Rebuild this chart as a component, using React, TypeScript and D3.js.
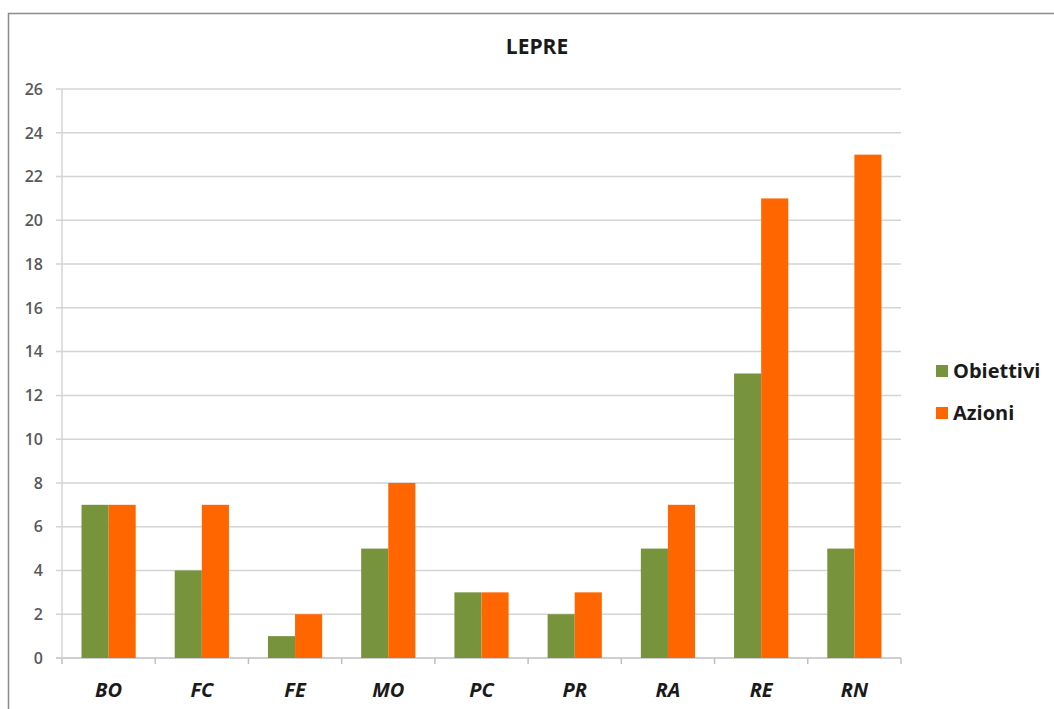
import React from "react";
import * as d3 from "d3";

const categories = ["BO", "FC", "FE", "MO", "PC", "PR", "RA", "RE", "RN"];
const obiettivi = [7, 4, 1, 5, 3, 2, 5, 13, 5];
const azioni = [7, 7, 2, 8, 3, 3, 7, 21, 23];
const seriesNames = ["Obiettivi", "Azioni"];
const colors = ["#77933C", "#FF6600"];
const yTicks = d3.range(0, 27, 2);

export default function App() {
  const W = 1054, H = 709;
  const left = 62, right = 901, top = 89, bottom = 658;
  const x = d3.scaleBand<string>().domain(categories).range([left, right]).paddingInner(0).paddingOuter(0);
  const inner = d3.scaleBand<string>().domain(seriesNames).range([0, x.bandwidth()]).paddingInner(0).paddingOuter(0.72);
  const y = d3.scaleLinear().domain([0, 26]).range([bottom, top]);
  const series = [obiettivi, azioni];
  const font = "'Open Sans', 'Liberation Sans', sans-serif";
  return (
    <svg width={W} height={H} style={{ position: "absolute", left: 0, top: 0, background: "#fff" }} fontFamily={font}>
      <rect x={8.5} y={13.5} width={W + 10} height={H + 10} fill="white" stroke="#8c8c8c" strokeWidth={1.5} />
      <text x={537} y={54} textAnchor="middle" fontSize={21} fontWeight="bold" fill="#1a1a1a">LEPRE</text>
      {yTicks.map((t) => (
        <g key={t}>
          <line x1={left - 6} x2={right} y1={y(t)} y2={y(t)} stroke={t === 0 ? "#bfbfbf" : "#d4d4d4"} strokeWidth={1.5} />
          <text x={43} y={y(t)} dy="0.36em" textAnchor="end" fontSize={16} fontWeight={600} fill="#595959">{t}</text>
        </g>
      ))}
      <line x1={left} x2={left} y1={top} y2={bottom} stroke="#d4d4d4" strokeWidth={1.5} />
      {categories.concat([""]).map((c, i) => {
        const xx = left + i * x.bandwidth();
        return <line key={"t" + i} x1={xx} x2={xx} y1={bottom} y2={bottom + 6} stroke="#bfbfbf" strokeWidth={1.5} />;
      })}
      {series.map((vals, si) =>
        vals.map((v, i) => (
          <rect key={si + "-" + i}
            x={(x(categories[i]) as number) + (inner(seriesNames[si]) as number)}
            y={y(v)} width={inner.bandwidth()} height={bottom - y(v)} fill={colors[si]} />
        ))
      )}
      {categories.map((c) => (
        <text key={c} x={(x(c) as number) + x.bandwidth() / 2} y={697} textAnchor="middle" fontSize={20}
          fontWeight="bold" fontStyle="italic" fill="#1a1a1a">{c}</text>
      ))}
      {seriesNames.map((s, i) => (
        <g key={s} transform={`translate(936, ${365 + i * 42})`}>
          <rect x={0} y={0} width={12} height={12} fill={colors[i]} />
          <text x={17} y={6} dy="0.36em" fontSize={20} fontWeight="bold" fill="#1a1a1a">{s}</text>
        </g>
      ))}
    </svg>
  );
}
